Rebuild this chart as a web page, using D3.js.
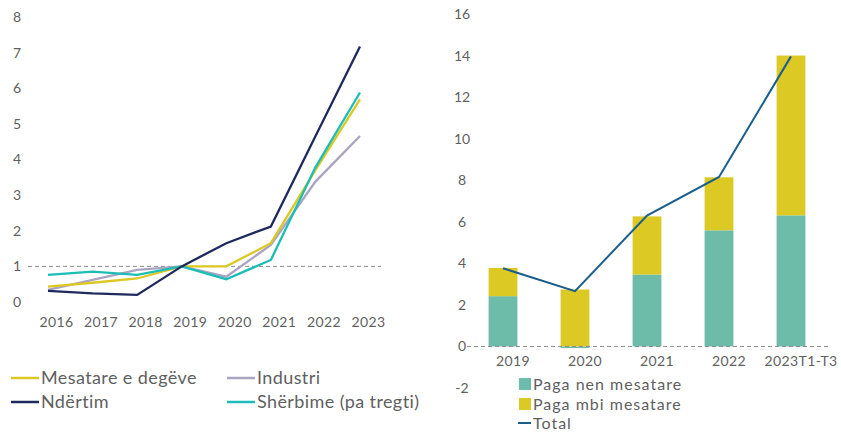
<!DOCTYPE html>
<html>
<head>
<meta charset="utf-8">
<script src="https://cdn.jsdelivr.net/npm/d3@7"></script>
<style>
  body { margin: 0; background: #fff; }
  svg text { font-family: Lato, "Open Sans", sans-serif; fill: #5f5f5f; }
</style>
</head>
<body>
<svg id="chart" width="841" height="432"></svg>
<script>
// left panel: indices by sector
const years = ['2016', '2017', '2018', '2019', '2020', '2021', '2022', '2023'];
const mesatare = [0.43, 0.54, 0.66, 1.0, 1.0, 1.65, 3.7, 5.69];
const industri = [0.34, 0.62, 0.9, 1.0, 0.71, 1.6, 3.38, 4.66];
const ndertim = [0.31, 0.24, 0.2, 1.0, 1.65, 2.12, 4.65, 7.17];
const sherbime = [0.76, 0.85, 0.76, 1.0, 0.64, 1.18, 3.78, 5.88];
const leftTicks = [0, 1, 2, 3, 4, 5, 6, 7, 8];

// right panel: contributions
const periods = ['2019', '2020', '2021', '2022', '2023T1-T3'];
const pagaNen = [2.42, -0.08, 3.46, 5.59, 6.31];
const pagaMbi = [1.36, 2.74, 2.8, 2.55, 7.69];
const total = [3.76, 2.66, 6.3, 8.16, 13.96];
const rightTicks = [-2, 0, 2, 4, 6, 8, 10, 12, 14, 16];

const svg = d3.select('#chart');
const plain = d => String(d);

// ---------- left chart ----------
const xL = d3.scalePoint().domain(years).range([48, 360]);
const yL = d3.scaleLinear().domain([0, 8]).range([302, 17]);

svg.append('g')
	.attr('transform', 'translate(24 0)')
	.call(d3.axisLeft(yL).tickValues(leftTicks).tickSize(0).tickFormat(plain))
	.call(g => g.select('.domain').remove())
	.selectAll('text')
	.attr('font-size', 14)
	.attr('text-anchor', 'middle')
	.attr('x', -7);

svg.append('g')
	.attr('transform', 'translate(0 314)')
	.call(d3.axisBottom(xL).tickSize(0))
	.call(g => g.select('.domain').remove())
	.selectAll('text')
	.attr('font-size', 14)
	.attr('letter-spacing', 0.4)
	.attr('dx', 8);

svg.append('line')
	.attr('x1', 28).attr('x2', 381)
	.attr('y1', yL(1)).attr('y2', yL(1))
	.attr('stroke', '#8c8c8c').attr('stroke-width', 1)
	.attr('stroke-dasharray', '4 3');

const leftSeries = [
	{ name: 'Industri', values: industri, color: '#aaa4c2' },
	{ name: 'Mesatare e degëve', values: mesatare, color: '#dcc823' },
	{ name: 'Shërbime (pa tregti)', values: sherbime, color: '#1cbdb6' },
	{ name: 'Ndërtim', values: ndertim, color: '#1e2a5e' }
];

const lineL = d3.line()
	.x((d, i) => xL(years[i]))
	.y(d => yL(d));

svg.append('g')
	.selectAll('path')
	.data(leftSeries)
	.enter()
	.append('path')
	.attr('d', s => lineL(s.values))
	.attr('fill', 'none')
	.attr('stroke', s => s.color)
	.attr('stroke-width', 2.3);

const legL = [
	{ name: 'Mesatare e degëve', color: '#dcc823', x: 11, y: 378 },
	{ name: 'Industri', color: '#aaa4c2', x: 227, y: 378 },
	{ name: 'Ndërtim', color: '#1e2a5e', x: 11, y: 402 },
	{ name: 'Shërbime (pa tregti)', color: '#1cbdb6', x: 227, y: 402 }
];
const legLg = svg.append('g').selectAll('g').data(legL).enter().append('g');
legLg.append('line')
	.attr('x1', d => d.x).attr('x2', d => d.x + 28)
	.attr('y1', d => d.y).attr('y2', d => d.y)
	.attr('stroke', d => d.color).attr('stroke-width', 2.5);
legLg.append('text')
	.attr('x', d => d.x + 30).attr('y', d => d.y + 6)
	.attr('font-size', 18)
	.attr('letter-spacing', 0.4)
	.text(d => d.name);

// ---------- right chart ----------
const xR = d3.scaleBand().domain(periods).range([467, 827]).paddingInner(0.6).paddingOuter(0.3);
const yR = d3.scaleLinear().domain([-2, 16]).range([388, 14]);

svg.append('g')
	.attr('transform', 'translate(470 0)')
	.call(d3.axisLeft(yR).tickValues(rightTicks).tickSize(0).tickFormat(plain))
	.call(g => g.select('.domain').remove())
	.selectAll('text')
	.attr('font-size', 14)
	.attr('text-anchor', 'middle')
	.attr('x', -8);

const rows = periods.map((p, i) => ({ period: p, nen: pagaNen[i], mbi: pagaMbi[i] }));
const stack = d3.stack().keys(['nen', 'mbi']).offset(d3.stackOffsetDiverging);
const barColors = { nen: '#6dbcaa', mbi: '#dcc923' };

svg.append('g')
	.selectAll('g')
	.data(stack(rows))
	.enter()
	.append('g')
	.attr('fill', s => barColors[s.key])
	.selectAll('rect')
	.data(s => s)
	.enter()
	.append('rect')
	.attr('x', d => xR(d.data.period))
	.attr('width', xR.bandwidth())
	.attr('y', d => yR(d[1]))
	.attr('height', d => yR(d[0]) - yR(d[1]));

svg.append('line')
	.attr('x1', 467).attr('x2', 828)
	.attr('y1', yR(0)).attr('y2', yR(0))
	.attr('stroke', '#8c8c8c').attr('stroke-width', 1)
	.attr('stroke-dasharray', '4 3');

svg.append('g')
	.attr('transform', 'translate(0 ' + (yR(0) + 7) + ')')
	.call(d3.axisBottom(xR).tickSize(0))
	.call(g => g.select('.domain').remove())
	.selectAll('text')
	.attr('font-size', 14)
	.attr('letter-spacing', 0.4)
	.attr('dx', 10);

const lineR = d3.line()
	.x((d, i) => xR(periods[i]) + xR.bandwidth() / 2)
	.y(d => yR(d));

svg.append('path')
	.attr('d', lineR(total))
	.attr('fill', 'none')
	.attr('stroke', '#1a5e8d')
	.attr('stroke-width', 2);

const legR = [
	{ name: 'Paga nen mesatare', color: '#6dbcaa', type: 'box', y: 384 },
	{ name: 'Paga mbi mesatare', color: '#dcc923', type: 'box', y: 404 },
	{ name: 'Total', color: '#1a5e8d', type: 'line', y: 423 }
];
const legRg = svg.append('g').selectAll('g').data(legR).enter().append('g');
legRg.filter(d => d.type === 'box').append('rect')
	.attr('x', 519).attr('y', d => d.y - 6)
	.attr('width', 12).attr('height', 12)
	.attr('fill', d => d.color);
legRg.filter(d => d.type === 'line').append('line')
	.attr('x1', 518).attr('x2', 531)
	.attr('y1', d => d.y).attr('y2', d => d.y)
	.attr('stroke', d => d.color).attr('stroke-width', 2);
legRg.append('text')
	.attr('x', 533).attr('y', d => d.y + 6)
	.attr('font-size', 16)
	.attr('letter-spacing', 1)
	.text(d => d.name);
</script>
</body>
</html>
